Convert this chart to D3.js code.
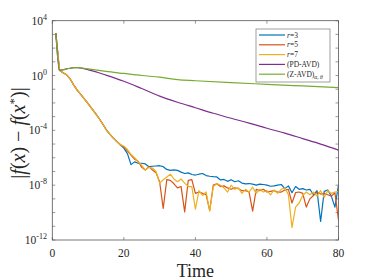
<!DOCTYPE html>
<html>
<head>
<meta charset="utf-8">
<script src="https://cdn.jsdelivr.net/npm/d3@7"></script>
<style>
  body { margin: 0; background: #fff; }
  svg { display: block; }
  text { font-family: 'Liberation Serif', 'Times New Roman', serif; fill: #262626; }
</style>
</head>
<body>
<svg width="374" height="280"></svg>
<script>
// sample times for the r-series (t = 1..80)
var times = d3.range(1, 81);

// log10 |f(x) - f(x*)|, shared start of the three r curves (t = 1..19)
var earlyExp = [3.08, 0.38, 0.2, 0.05, -0.25, -0.7, -1.08, -1.4, -1.72, -2.05,
  -2.4, -2.75, -3.1, -3.5, -3.92, -4.25, -4.55, -4.8, -5.05];

// t = 20..80
var r3Tail = [-5.3, -5.7, -6.5, -6.3, -6.4, -6.4, -6.45, -6.65, -6.62, -6.6,
  -6.58, -6.65, -6.85, -6.92, -6.88, -6.92, -7.05, -7.15, -7.1, -7.22,
  -7.26, -7.2, -7.15, -7.3, -7.35, -7.38, -7.4, -7.62, -7.58, -7.72,
  -7.6, -7.75, -7.68, -7.85, -7.9, -7.88, -7.92, -8.0, -7.92, -7.95,
  -8.0, -8.08, -8.05, -8.0, -7.95, -8.25, -8.05, -8.55, -8.1, -8.3,
  -8.25, -8.35, -8.3, -8.7, -8.4, -10.65, -8.45, -8.35, -8.8, -9.6, -8.0];
var r5Tail = [-5.2, -5.5, -5.8, -6.1, -6.25, -6.7, -6.9, -6.65, -6.9, -7.1,
  -7.75, -9.7, -7.6, -7.65, -7.9, -8.2, -8.1, -9.95, -7.65, -7.6,
  -8.6, -8.5, -8.6, -8.7, -9.85, -8.0, -7.9, -8.1, -8.05, -8.2,
  -8.3, -8.2, -8.25, -8.4, -8.4, -8.5, -9.9, -8.3, -8.4, -8.3,
  -8.5, -8.45, -8.4, -8.5, -8.5, -8.35, -8.3, -9.3, -8.55, -8.5,
  -8.6, -9.6, -9.0, -8.75, -8.5, -8.65, -8.6, -8.7, -8.8, -8.55, -10.55];
var r7Tail = [-5.15, -5.4, -5.75, -6.0, -6.3, -6.55, -6.9, -6.7, -6.75, -7.0,
  -7.85, -7.6, -7.4, -7.2, -7.55, -7.75, -7.55, -7.85, -8.1, -8.1,
  -9.75, -8.4, -8.75, -8.5, -9.9, -8.1, -7.9, -8.0, -8.2, -8.5,
  -8.0, -8.3, -8.2, -8.6, -8.3, -8.5, -8.15, -8.6, -8.3, -8.5,
  -8.4, -8.7, -8.35, -8.6, -8.3, -8.2, -8.7, -11.1, -9.6, -9.3,
  -8.75, -8.5, -8.7, -8.5, -8.8, -8.4, -8.9, -8.4, -8.6, -8.5, -8.45];

var pdTime = [1, 2, 3, 4, 5, 6, 7, 8, 10, 12, 15, 20, 25, 30, 35, 40, 45, 50, 55, 60, 65, 70, 75, 80];
var pdExp = [3.08, 0.38, 0.42, 0.48, 0.53, 0.57, 0.58, 0.55, 0.42, 0.28, 0.03, -0.42,
  -0.95, -1.5, -1.95, -2.35, -2.75, -3.12, -3.47, -3.85, -4.2, -4.6, -5.0, -5.44];

var zTime = [1, 2, 3, 4, 5, 6, 7, 8, 10, 15, 20, 25, 30, 35, 40, 50, 60, 70, 80];
var zExp = [3.08, 0.38, 0.42, 0.48, 0.53, 0.57, 0.58, 0.56, 0.48, 0.3, 0.15, 0.0,
  -0.12, -0.3, -0.38, -0.52, -0.64, -0.76, -0.88];

var xTicks = [0, 20, 40, 60, 80];
var yLabelExps = [4, 0, -4, -8, -12];
var yMinorExps = d3.range(-12, 5);

var legendNames = ['r=3', 'r=5', 'r=7', '(PD-AVD)', '(Z-AVD)'];
var colors = ['#0072BD', '#D95319', '#EDB120', '#7E2F8E', '#77AC30'];

var svg = d3.select('svg');
var pL = 52.3, pR = 338.5, pT = 20.7, pB = 240;

var x = d3.scaleLinear().domain([0, 80]).range([pL, pR]);
var y = d3.scaleLog().domain([1e-12, 1e4]).range([pB, pT]);

svg.append('clipPath').attr('id', 'clip')
  .append('rect')
  .attr('x', pL).attr('y', pT)
  .attr('width', pR - pL).attr('height', pB - pT);

function pts(t, e) {
  return t.map(function (d, i) { return [d, Math.pow(10, e[i])]; });
}

var series = [
  { data: pts(times, earlyExp.concat(r3Tail)), curve: d3.curveLinear },
  { data: pts(times, earlyExp.concat(r5Tail)), curve: d3.curveLinear },
  { data: pts(times, earlyExp.concat(r7Tail)), curve: d3.curveLinear },
  { data: pts(pdTime, pdExp), curve: d3.curveMonotoneX },
  { data: pts(zTime, zExp), curve: d3.curveMonotoneX }
];

// axis ticks (inward, on all four sides)
var axisColor = '#555';
var tk = 3;
var g = svg.append('g');
yMinorExps.forEach(function (e) {
  var yy = y(Math.pow(10, e));
  g.append('line').attr('x1', pL).attr('x2', pL + tk).attr('y1', yy).attr('y2', yy)
    .attr('stroke', axisColor).attr('stroke-width', 0.6);
  g.append('line').attr('x1', pR).attr('x2', pR - tk).attr('y1', yy).attr('y2', yy)
    .attr('stroke', axisColor).attr('stroke-width', 0.6);
});
xTicks.forEach(function (t) {
  var xx = x(t);
  g.append('line').attr('x1', xx).attr('x2', xx).attr('y1', pB).attr('y2', pB - tk)
    .attr('stroke', axisColor).attr('stroke-width', 0.6);
  g.append('line').attr('x1', xx).attr('x2', xx).attr('y1', pT).attr('y2', pT + tk)
    .attr('stroke', axisColor).attr('stroke-width', 0.6);
});

// data lines
var line = d3.line()
  .x(function (d) { return x(d[0]); })
  .y(function (d) { return y(d[1]); });

var lines = svg.append('g').attr('clip-path', 'url(#clip)');
series.forEach(function (s, i) {
  lines.append('path')
    .attr('d', line.curve(s.curve)(s.data))
    .attr('fill', 'none')
    .attr('stroke', colors[i])
    .attr('stroke-width', 1.2)
    .attr('stroke-linejoin', 'round');
});

// box
svg.append('rect')
  .attr('x', pL).attr('y', pT)
  .attr('width', pR - pL).attr('height', pB - pT)
  .attr('fill', 'none').attr('stroke', axisColor).attr('stroke-width', 0.8);

// tick labels
xTicks.forEach(function (t) {
  svg.append('text')
    .attr('x', x(t)).attr('y', 257)
    .attr('text-anchor', 'middle')
    .style('font-size', '11.5px')
    .text(t);
});
yLabelExps.forEach(function (e) {
  var t = svg.append('text')
    .attr('x', 47).attr('y', y(Math.pow(10, e)) + 4)
    .attr('text-anchor', 'end')
    .style('font-size', '11.5px');
  t.append('tspan').text('10');
  t.append('tspan').attr('dy', -5).style('font-size', '8px').text(e);
});

// axis titles
svg.append('text')
  .attr('x', (pL + pR) / 2).attr('y', 277)
  .attr('text-anchor', 'middle')
  .style('font-size', '18px')
  .text('Time');

var yl = svg.append('text')
  .attr('transform', 'translate(25,133) rotate(-90)')
  .attr('text-anchor', 'middle')
  .style('font-size', '20px');
yl.append('tspan').text('|');
yl.append('tspan').style('font-style', 'italic').text('f');
yl.append('tspan').text('(');
yl.append('tspan').style('font-style', 'italic').text('x');
yl.append('tspan').text(') \u2212 ');
yl.append('tspan').style('font-style', 'italic').text('f');
yl.append('tspan').text('(');
yl.append('tspan').style('font-style', 'italic').text('x');
yl.append('tspan').attr('dy', -7).style('font-size', '13px').text('*');
yl.append('tspan').attr('dy', 7).text(')|');

// legend
var lg = svg.append('g');
lg.append('rect')
  .attr('x', 256).attr('y', 29).attr('width', 74).attr('height', 53)
  .attr('fill', '#fff').attr('stroke', '#888').attr('stroke-width', 0.8);
legendNames.forEach(function (name, i) {
  var ly = 35 + i * 9.8;
  lg.append('line')
    .attr('x1', 259).attr('x2', 285).attr('y1', ly).attr('y2', ly)
    .attr('stroke', colors[i]).attr('stroke-width', 1.2);
  var t = lg.append('text')
    .attr('x', 287).attr('y', ly + 2.6)
    .style('font-size', '7.5px');
  if (name.charAt(0) === 'r') {
    t.append('tspan').style('font-style', 'italic').text('r');
    t.append('tspan').text(name.slice(1));
  } else {
    t.append('tspan').text(name);
  }
  if (i === 4) {
    t.append('tspan').attr('dy', 2.5).style('font-size', '5.5px').style('font-style', 'italic').text('\u03b1, \u03b8');
  }
});
</script>
</body>
</html>
